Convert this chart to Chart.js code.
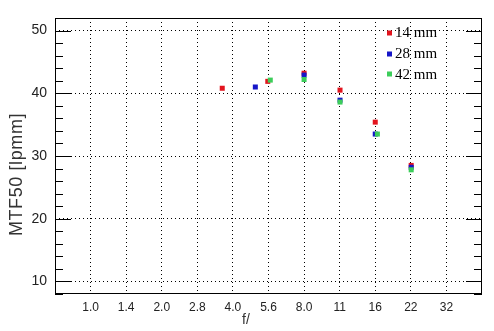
<!DOCTYPE html>
<html>
<head>
<meta charset="utf-8">
<script src="https://cdn.jsdelivr.net/npm/chart.js@4/dist/chart.umd.min.js"></script>
<style>
  html, body { margin: 0; padding: 0; background: #fff; }
  #wrap { width: 494px; height: 331px; }
</style>
</head>
<body>
<div id="wrap"><canvas id="graph" width="494" height="331"></canvas></div>
<script>
// f-stop tick labels, x positions are in stop units (1.0 = 0, 1.4 = 1, ...)
const stopLabels = ["1.0", "1.4", "2.0", "2.8", "4.0", "5.6", "8.0", "11", "16", "22", "32"];

const series14Stops = [3.70, 4.98, 6.0, 7.01, 8.0, 9.01];
const series14Mtf = [40.8, 41.9, 43.2, 40.5, 35.4, 28.5];

const series28Stops = [4.63, 6.0, 7.01, 8.0, 9.01];
const series28Mtf = [41.0, 42.9, 38.9, 33.5, 28.2];

const series42Stops = [5.05, 6.0, 7.01, 8.06, 9.01];
const series42Mtf = [42.1, 42.2, 38.6, 33.5, 27.8];

const pts = (xs, ys) => xs.map((x, i) => ({ x: x, y: ys[i] }));

// frame, inward y ticks, legend, axis titles
const decor = {
	id: "decor",
	afterDatasetsDraw(chart) {
		const ctx = chart.ctx;
		const a = chart.chartArea;
		const ys = chart.scales.y;
		ctx.save();
		ctx.strokeStyle = "#000";
		ctx.lineWidth = 1;
		ys.ticks.forEach((t) => {
			const y = Math.round(ys.getPixelForValue(t.value)) + 0.5;
			const len = t.value % 10 === 0 ? 16 : 8;
			ctx.beginPath();
			ctx.moveTo(a.left, y);
			ctx.lineTo(a.left + len, y);
			ctx.moveTo(a.right, y);
			ctx.lineTo(a.right - len, y);
			ctx.stroke();
		});
		ctx.strokeRect(Math.round(a.left) + 0.5, Math.round(a.top) + 0.5,
			Math.round(a.right - a.left) - 1, Math.round(a.bottom - a.top) - 1);

		// legend
		ctx.font = "15px 'Liberation Serif'";
		ctx.textBaseline = "middle";
		ctx.textAlign = "left";
		chart.data.datasets.forEach((ds, i) => {
			const y = 33 + i * 20.7;
			ctx.fillStyle = ds.backgroundColor;
			ctx.fillRect(387, Math.round(y) - 2.5, 5, 5);
			ctx.fillStyle = "#000";
			ctx.fillText(ds.label, 395, y + 0.5);
		});

		// axis titles
		ctx.fillStyle = "#333";
		ctx.textAlign = "center";
		ctx.font = "18px 'Liberation Sans'";
		ctx.save();
		ctx.translate(17, 174.5);
		ctx.rotate(-Math.PI / 2);
		ctx.letterSpacing = "0.6px";
		ctx.fillText("MTF50 [lpmm]", 0, 0);
		ctx.restore();
		ctx.font = "14px 'Liberation Sans'";
		ctx.fillText("f/", 246, 320);
		ctx.restore();
	},
};

new Chart(document.getElementById("graph"), {
	type: "scatter",
	data: {
		datasets: [
			{
				label: "14 mm",
				data: pts(series14Stops, series14Mtf),
				backgroundColor: "#e3141e",
				order: 3,
			},
			{
				label: "28 mm",
				data: pts(series28Stops, series28Mtf),
				backgroundColor: "#1616c8",
				order: 2,
			},
			{
				label: "42 mm",
				data: pts(series42Stops, series42Mtf),
				backgroundColor: "#3ccd5a",
				order: 1,
			},
		],
	},
	options: {
		responsive: false,
		animation: false,
		layout: { padding: { top: 18, right: 12, left: 0, bottom: 0 } },
		elements: {
			point: { pointStyle: "rect", radius: 3.55, borderWidth: 0, hoverRadius: 3.55 },
		},
		plugins: {
			legend: { display: false },
			tooltip: { enabled: false },
		},
		scales: {
			x: {
				type: "linear",
				min: -1,
				max: 11,
				afterFit: (s) => { s.height = 37; },
				ticks: {
					stepSize: 1,
					autoSkip: false,
					maxRotation: 0,
					padding: 6,
					color: "#222",
					font: { family: "'Liberation Sans'", size: 12 },
					callback: (v) => stopLabels[v] || "",
				},
				grid: {
					drawTicks: false,
					color: (c) => (c.tick && c.tick.value >= 0 && c.tick.value <= 10 ? "#000" : "rgba(0,0,0,0)"),
				},
				border: { display: false, dash: [1, 3] },
			},
			y: {
				min: 8,
				max: 52,
				afterFit: (s) => { s.width = 55; },
				ticks: {
					stepSize: 2,
					autoSkip: false,
					padding: 8,
					color: "#222",
					font: { family: "'Liberation Sans'", size: 14 },
					callback: (v) => (v % 10 === 0 ? String(v) : ""),
				},
				grid: {
					drawTicks: false,
					color: (c) => (c.tick && c.tick.value % 10 === 0 ? "#000" : "rgba(0,0,0,0)"),
				},
				border: { display: false, dash: [1, 3] },
			},
		},
	},
	plugins: [decor],
});
</script>
</body>
</html>
